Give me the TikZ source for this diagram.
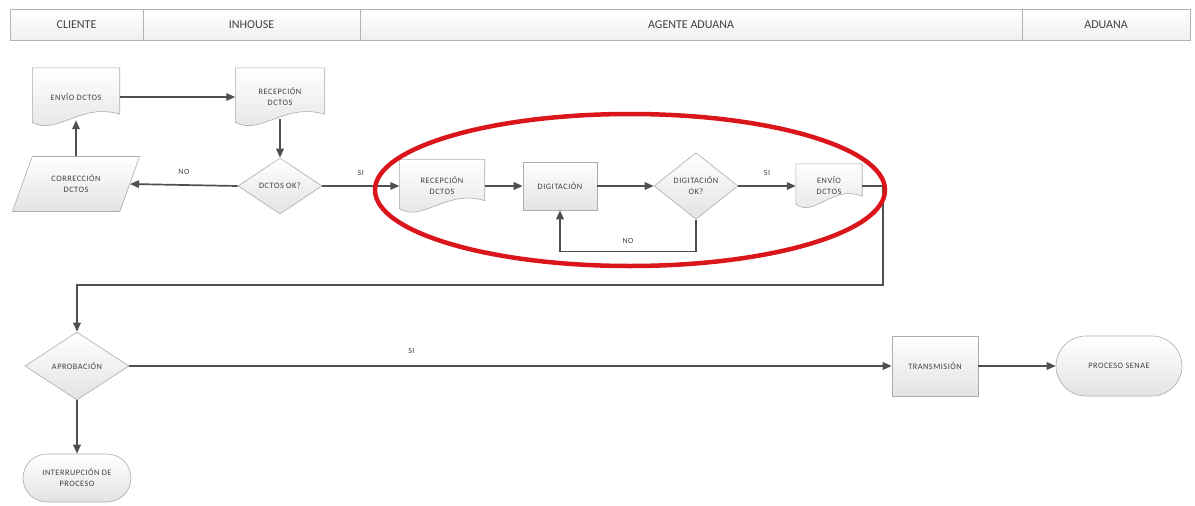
\documentclass[tikz,border=0pt]{standalone}
\usepackage{fontspec}
\setmainfont{Carlito}
\newfontfamily\boxfont[LetterSpace=6]{Carlito}
\usetikzlibrary{shapes.geometric,shapes.misc,arrows.meta,backgrounds,calc}
\definecolor{markred}{RGB}{218,22,28}
\definecolor{flowgray}{RGB}{80,80,80}

\begin{document}
\begin{tikzpicture}[x=1pt, y=-1pt, >={Triangle[length=9pt,width=7.5pt]},
    flow/.style={draw=flowgray, line width=1.7pt, ->},
    box/.style={draw=gray!65, line width=0.6pt, top color=white, bottom color=gray!22,
        font=\boxfont\fontsize{8.3}{11}\selectfont, text=black!75, align=center, inner sep=1pt},
    procbox/.style={box, rectangle},
    decision/.style={box, diamond},
    terminal/.style={box, rounded rectangle},
    inputbox/.style={box, trapezium, trapezium left angle=60, trapezium right angle=120,
        trapezium stretches=true},
    docbox/.style={rectangle, font=\boxfont\fontsize{8.3}{11}\selectfont, text=black!75,
        align=center, inner sep=1pt},
    docline/.style={draw=gray!65, line width=0.6pt, top color=white, bottom color=gray!22},
    hdcell/.style={rectangle, draw=gray!60, line width=0.6pt, top color=white, bottom color=gray!12,
        minimum height=31, font=\fontsize{12}{14}\selectfont, text=black!75},
    lbl/.style={font=\boxfont\fontsize{8}{9}\selectfont, text=black!75}
]
    \useasboundingbox (0,0) rectangle (1195,506);

    % 1. Header lanes
    \node[hdcell, minimum width=133] (cliente) at (76.5,25) {CLIENTE};
    \node[hdcell, minimum width=217] (inhouse) at (251.5,25) {INHOUSE};
    \node[hdcell, minimum width=662] (agente) at (691,25) {AGENTE ADUANA};
    \node[hdcell, minimum width=168] (aduana) at (1106,25) {ADUANA};

    % 2. Upper row (cliente / inhouse)
    \node[docbox, minimum width=87, minimum height=58] (envio1) at (76,97) {ENVÍO DCTOS};
    \node[docbox, minimum width=89, minimum height=58] (recep1) at (280,97) {RECEPCIÓN\\DCTOS};
    \node[inputbox, minimum width=128, minimum height=55] (corr) at (76,184) {CORRECCIÓN\\DCTOS};
    \node[decision, minimum width=84, minimum height=56] (ok1) at (280,186) {DCTOS OK?};

    % 3. Agente aduana row
    \node[docbox, minimum width=85, minimum height=53] (recep2) at (442,186) {RECEPCIÓN\\DCTOS};
    \node[procbox, minimum width=74, minimum height=48] (digit) at (560,186) {DIGITACIÓN};
    \node[decision, minimum width=84, minimum height=54] (ok2) at (696,186) {DIGITACIÓN\\OK?};
    \node[docbox, minimum width=66, minimum height=44] (envio2) at (829,186) {ENVÍO\\DCTOS};

    % 4. Lower row
    \node[decision, minimum width=104, minimum height=68] (aprob) at (77,366) {APROBACIÓN};
    \node[procbox, minimum width=86, minimum height=60] (trans) at (935,366) {TRANSMISIÓN};
    \node[terminal, minimum width=128, minimum height=60] (senae) at (1119,366) {PROCESO SENAE};
    \node[terminal, minimum width=110, minimum height=48] (interr) at (77,478) {INTERRUPCIÓN DE\\PROCESO};

    % 5. Document outlines with wavy bottom
    \begin{scope}[on background layer]
        \foreach \d in {envio1,recep1,recep2,envio2}
            \shadedraw[docline] (\d.north west) -- (\d.north east) -- ($(\d.south east)+(0,-12)$)
                .. controls ($(\d.south east)!0.45!(\d.south west)+(0,-24)$)
                and ($(\d.south east)!0.72!(\d.south west)+(0,10)$) .. ($(\d.south west)+(0,-4)$) -- cycle;
    \end{scope}

    % 6. Connectors
    \coordinate (turn) at (883,285);
    \draw[flow] (envio1.east) -- (recep1.west);
    \draw[flow] ($(recep1.south)+(0,-7)$) -- (ok1.north);
    \draw[flow] (ok1.west) -- (corr.east) node[lbl, midway, above=6pt] {NO};
    \draw[flow] (corr.north) -- ($(envio1.south)+(0,-6)$);
    \draw[flow] (ok1.east) -- (recep2.west) node[lbl, midway, above=6pt] {SI};
    \draw[flow] (recep2.east) -- (digit.west);
    \draw[flow] (digit.east) -- (ok2.west);
    \draw[flow] (ok2.east) -- (envio2.west) node[lbl, midway, above=6pt] {SI};
    \draw[flow] (ok2.south) -- ++(0,32) -| (digit.south) node[lbl, pos=0.25, above=4pt] {NO};
    \draw[flow] (envio2.east) -| (turn) -| (aprob.north);
    \draw[flow] (aprob.east) -- (trans.west) node[lbl, pos=0.37, above=8pt] {SI};
    \draw[flow] (trans.east) -- (senae.west);
    \draw[flow] (aprob.south) -- (interr.north);

    % 7. Highlight
    \draw[markred, line width=4.5pt] (630,190) ellipse [x radius=255pt, y radius=76pt];
\end{tikzpicture}
\end{document}
